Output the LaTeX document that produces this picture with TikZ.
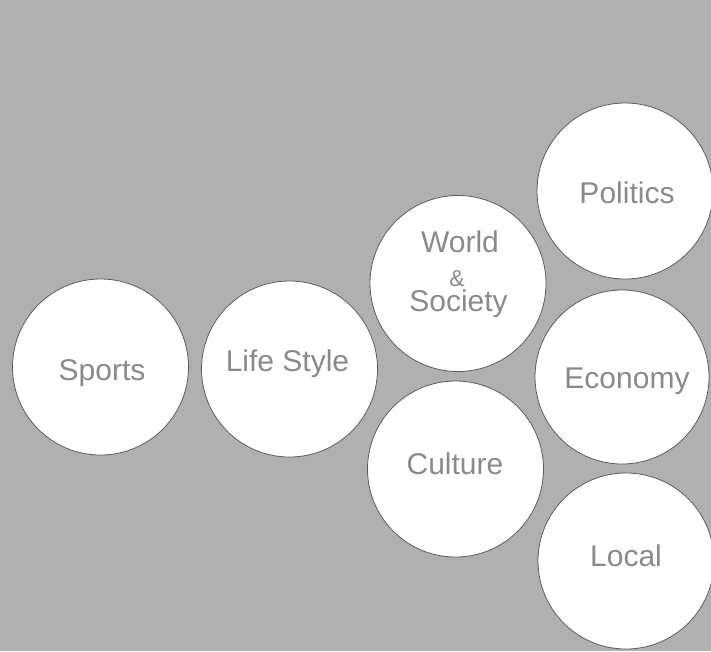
\documentclass[tikz,border=0pt]{standalone}
\usepackage{fontspec}
\setmainfont{Liberation Sans}
\definecolor{bg}{HTML}{B0B0B0}
\definecolor{rim}{HTML}{5C5C5C}
\definecolor{txt}{HTML}{8A8A8A}
\begin{document}
\begin{tikzpicture}[x=1pt,y=-1pt,
  topic/.style={circle,draw=rim,line width=0.8pt,fill=white,minimum size=176pt,inner sep=0pt},
  word/.style={anchor=base,inner sep=0pt,text=txt,font=\fontsize{30}{36}\selectfont},
  amp/.style={anchor=base,inner sep=0pt,text depth=0pt,text=txt,font=\fontsize{23}{26}\selectfont}]
\fill[bg] (0,0) rectangle (711,651);
\useasboundingbox (0,0) rectangle (711,651);
\node[topic] (sports) at (100.5,367) {};
\node[topic] (life) at (289.5,369) {};
\node[topic] (world) at (458,283.5) {};
\node[topic] (politics) at (625,191) {};
\node[topic,minimum size=174pt] (economy) at (622,377) {};
\node[topic] (culture) at (455.5,469) {};
\node[topic] (local) at (626,561) {};
\node[word] (tsports) at (102,380) {Sports};
\node[word] (tlife) at (287.5,371.7) {Life Style};
\node[word] (tworld) at (460,252) {World};
\node[amp] (tamp) at (457,286) {\&};
\node[word] (tsociety) at (458.5,311.5) {Society};
\node[word] (tpolitics) at (627,203.3) {Politics};
\node[word] (teconomy) at (627,388.3) {Economy};
\node[word] (tculture) at (455,474) {Culture};
\node[word] (tlocal) at (626,566.7) {Local};
\end{tikzpicture}
\end{document}
